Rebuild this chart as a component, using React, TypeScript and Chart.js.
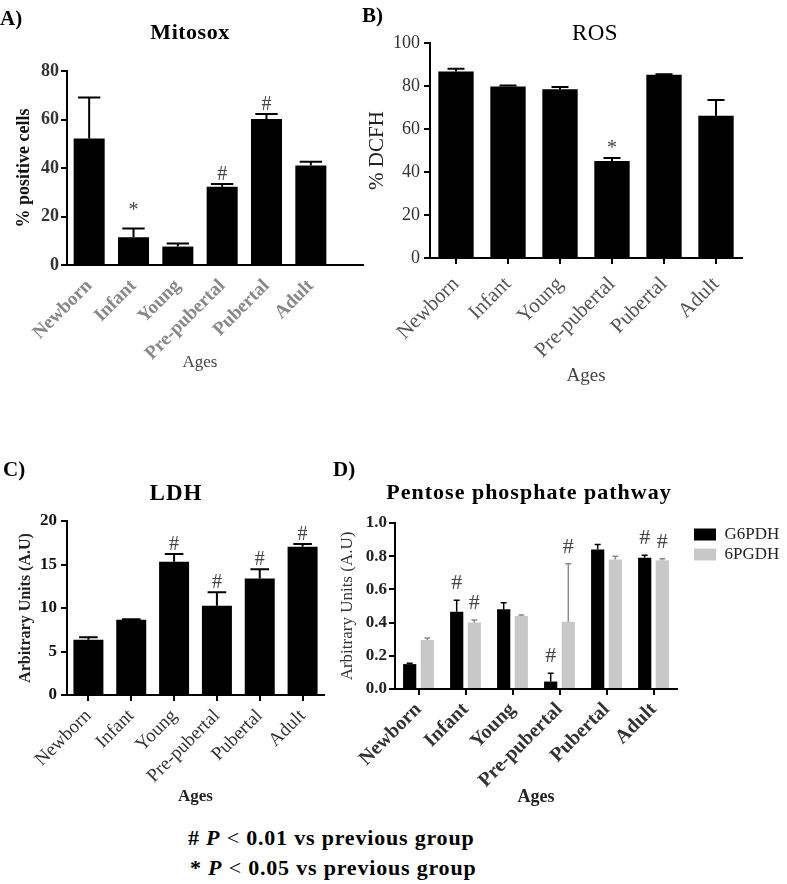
import React, { useEffect, useRef } from "react";
import { Chart, registerables } from "chart.js";

Chart.register(...registerables);

const SERIF = "'Liberation Serif', 'Times New Roman', Times, serif";
Chart.defaults.font.family = SERIF;

// ---------- data ----------
const AGES = ["Newborn", "Infant", "Young", "Pre-pubertal", "Pubertal", "Adult"];
const X_TITLE = "Ages";

// A) Mitosox
const MITOSOX_TICKS = [0, 20, 40, 60, 80];
const MITOSOX_MEAN = [52.2, 11.4, 7.6, 32.3, 60.2, 41.0];
const MITOSOX_SEM = [16.9, 3.7, 1.3, 1.1, 2.1, 1.6];
const MITOSOX_SIG = ["", "*", "", "#", "#", ""];

// B) ROS
const ROS_TICKS = [0, 20, 40, 60, 80, 100];
const ROS_MEAN = [86.8, 79.8, 78.5, 45.1, 85.2, 66.2];
const ROS_SEM = [1.2, 0.4, 1.0, 1.4, 0.3, 7.3];
const ROS_SIG = ["", "", "", "*", "", ""];

// C) LDH
const LDH_TICKS = [0, 5, 10, 15, 20];
const LDH_MEAN = [6.35, 8.64, 15.33, 10.25, 13.4, 17.05];
const LDH_SEM = [0.3, 0.06, 0.87, 1.55, 1.05, 0.3];
const LDH_SIG = ["", "", "#", "#", "#", "#"];

// D) Pentose phosphate pathway
const PPP_TICKS = [0, 0.2, 0.4, 0.6, 0.8, 1.0];
const G6PDH_MEAN = [0.15, 0.465, 0.48, 0.045, 0.84, 0.79];
const G6PDH_SEM = [0.005, 0.07, 0.04, 0.05, 0.03, 0.015];
const G6PDH_SIG = ["", "#", "", "#", "", "#"];
const PGDH_MEAN = [0.295, 0.4, 0.44, 0.405, 0.78, 0.775];
const PGDH_SEM = [0.012, 0.015, 0.006, 0.35, 0.02, 0.01];
const PGDH_SIG = ["", "#", "", "#", "", "#"];

// ---------- plugins ----------
const errorBarsPlugin = {
  id: "errorBars",
  afterDatasetsDraw(chart: any, _args: any, opts: any) {
    const ctx = chart.ctx;
    const y = chart.scales.y;
    chart.data.datasets.forEach((ds: any, i: number) => {
      const meta = chart.getDatasetMeta(i);
      meta.data.forEach((bar: any, j: number) => {
        const mean = ds.data[j];
        const top = y.getPixelForValue(mean + (ds.sem ? ds.sem[j] : 0));
        const half = (bar.width * opts.capRatio) / 2;
        ctx.save();
        ctx.strokeStyle = ds.errColor;
        ctx.lineWidth = opts.lineWidth;
        ctx.beginPath();
        ctx.moveTo(bar.x, bar.y);
        ctx.lineTo(bar.x, top);
        ctx.moveTo(bar.x - half, top);
        ctx.lineTo(bar.x + half, top);
        ctx.stroke();
        const s = ds.sig ? ds.sig[j] : "";
        if (s) {
          ctx.fillStyle = opts.sigColor;
          ctx.font = `${opts.sigSize}px ${SERIF}`;
          ctx.textAlign = "center";
          ctx.textBaseline = "alphabetic";
          ctx.fillText(s, bar.x, top - (s === "*" ? opts.starGap : opts.sigGap));
        }
        ctx.restore();
      });
    });
  },
};

const axisExtendPlugin = {
  id: "axisExtend",
  afterDraw(chart: any, _a: any, opts: any) {
    if (!opts || !opts.length) return;
    const { ctx, chartArea } = chart;
    const yPix = Math.round(chartArea.bottom);
    ctx.save();
    ctx.strokeStyle = "#000";
    ctx.lineWidth = 2;
    ctx.beginPath();
    ctx.moveTo(chartArea.right - 1, yPix);
    ctx.lineTo(chartArea.right + opts.length, yPix);
    ctx.stroke();
    ctx.restore();
  },
};

const legendShiftPlugin = {
  id: "legendShift",
  afterLayout(chart: any, _a: any, opts: any) {
    const lg = chart.legend;
    if (lg && opts && opts.dx) {
      lg.left += opts.dx;
      lg.right += opts.dx;
    }
  },
};

// ---------- panel specs ----------
type Series = { label: string; mean: number[]; sem: number[]; sig: string[]; color: string; errColor: string };

const f = (size: number, weight: string) => ({ family: SERIF, size, weight });

const PANEL_A = {
  box: { left: 0, top: 0, width: 390, height: 380 },
  pad: { top: 71, right: 57, bottom: 0, left: 0 },
  yWidth: 67, xHeight: 115,
  ticks: MITOSOX_TICKS, decimals: 0,
  yTitle: "% positive cells", yTitleFont: f(18, "bold"), yTitleColor: "#111", yTitlePad: 14,
  yTickFont: f(18, "bold"), yTickColor: "#333", yTickPad: 2,
  xTickFont: f(19, "bold"), xTickColor: "#888", xTickPad: 10, xTickMarks: false,
  xTitleFont: f(17, "normal"), xTitleColor: "#444", xTitlePad: 7,
  series: [{ label: "Mitosox", mean: MITOSOX_MEAN, sem: MITOSOX_SEM, sig: MITOSOX_SIG, color: "#000", errColor: "#000" }] as Series[],
  barPct: 0.7, catPct: 1,
  capRatio: 0.72, errWidth: 2, sigSize: 20, sigGap: 4, starGap: 12, sigColor: "#444",
  legend: false, axisExtend: 31, legendShift: 0,
};

const PANEL_B = {
  box: { left: 345, top: 0, width: 442, height: 395 },
  pad: { top: 43, right: 45, bottom: 0, left: 0 },
  yWidth: 85, xHeight: 137,
  ticks: ROS_TICKS, decimals: 0,
  yTitle: "% DCFH", yTitleFont: f(21, "normal"), yTitleColor: "#222", yTitlePad: 20,
  yTickFont: f(18, "normal"), yTickColor: "#333", yTickPad: 4,
  xTickFont: f(21, "normal"), xTickColor: "#555", xTickPad: 8, xTickMarks: true,
  xTitleFont: f(19, "normal"), xTitleColor: "#444", xTitlePad: 8,
  series: [{ label: "ROS", mean: ROS_MEAN, sem: ROS_SEM, sig: ROS_SIG, color: "#000", errColor: "#000" }] as Series[],
  barPct: 0.68, catPct: 1,
  capRatio: 0.48, errWidth: 2, sigSize: 20, sigGap: 4, starGap: 4, sigColor: "#444",
  legend: false, axisExtend: 0, legendShift: 0,
};

const PANEL_C = {
  box: { left: 0, top: 420, width: 335, height: 390 },
  pad: { top: 101, right: 11, bottom: 0, left: 0 },
  yWidth: 67, xHeight: 115,
  ticks: LDH_TICKS, decimals: 0,
  yTitle: "Arbitrary Units (A.U)", yTitleFont: f(16, "bold"), yTitleColor: "#222", yTitlePad: 16,
  yTickFont: f(17, "bold"), yTickColor: "#111", yTickPad: 4,
  xTickFont: f(19, "normal"), xTickColor: "#333", xTickPad: 4, xTickMarks: true,
  xTitleFont: f(17, "bold"), xTitleColor: "#222", xTitlePad: 3,
  series: [{ label: "LDH", mean: LDH_MEAN, sem: LDH_SEM, sig: LDH_SIG, color: "#000", errColor: "#000" }] as Series[],
  barPct: 0.7, catPct: 1,
  capRatio: 0.62, errWidth: 2, sigSize: 20, sigGap: 4, starGap: 4, sigColor: "#444",
  legend: false, axisExtend: 0, legendShift: 0,
};

const PANEL_D = {
  box: { left: 335, top: 420, width: 452, height: 390 },
  pad: { top: 103, right: 16, bottom: 0, left: 0 },
  yWidth: 60, xHeight: 121,
  ticks: PPP_TICKS, decimals: 1,
  yTitle: "Arbitrary Units (A.U)", yTitleFont: f(17, "normal"), yTitleColor: "#333", yTitlePad: 2,
  yTickFont: f(17, "bold"), yTickColor: "#222", yTickPad: 2,
  xTickFont: f(20, "bold"), xTickColor: "#333", xTickPad: 3, xTickMarks: true,
  xTitleFont: f(18, "bold"), xTitleColor: "#222", xTitlePad: 2,
  series: [
    { label: "G6PDH", mean: G6PDH_MEAN, sem: G6PDH_SEM, sig: G6PDH_SIG, color: "#000", errColor: "#000" },
    { label: "6PGDH", mean: PGDH_MEAN, sem: PGDH_SEM, sig: PGDH_SIG, color: "#c8c8c8", errColor: "#8c8c8c" },
  ] as Series[],
  barPct: 0.75, catPct: 0.75,
  capRatio: 0.45, errWidth: 1.5, sigSize: 22, sigGap: 11, starGap: 11, sigColor: "#444",
  legend: true, axisExtend: 0, legendShift: 14,
};

type Spec = typeof PANEL_A;

function buildConfig(p: Spec): any {
  const lo = p.ticks[0];
  const hi = p.ticks[p.ticks.length - 1];
  return {
    type: "bar",
    data: {
      labels: AGES,
      datasets: p.series.map((s) => ({
        label: s.label,
        data: s.mean,
        sem: s.sem,
        sig: s.sig,
        errColor: s.errColor,
        backgroundColor: s.color,
        borderWidth: 0,
        barPercentage: p.barPct,
        categoryPercentage: p.catPct,
      })),
    },
    options: {
      responsive: false,
      animation: false,
      devicePixelRatio: 1,
      layout: { padding: p.pad },
      plugins: {
        title: { display: false },
        tooltip: { enabled: false },
        legend: p.legend
          ? {
              display: true,
              position: "right",
              align: "start",
              fullSize: false,
              maxWidth: 94,
              labels: { boxWidth: 22, boxHeight: 12, padding: 3, color: "#222", font: f(17, "normal") },
            }
          : { display: false },
        errorBars: {
          capRatio: p.capRatio,
          lineWidth: p.errWidth,
          sigSize: p.sigSize,
          sigGap: p.sigGap,
          starGap: p.starGap,
          sigColor: p.sigColor,
        },
        axisExtend: { length: p.axisExtend },
        legendShift: { dx: p.legendShift },
      },
      scales: {
        x: {
          type: "category",
          offset: true,
          grid: {
            display: p.xTickMarks,
            offset: false,
            drawOnChartArea: false,
            drawTicks: p.xTickMarks,
            tickLength: 6,
            color: "#000",
            lineWidth: 2,
          },
          border: { display: true, color: "#000", width: 2 },
          ticks: {
            minRotation: 45,
            maxRotation: 45,
            autoSkip: false,
            padding: p.xTickPad,
            font: p.xTickFont,
            color: p.xTickColor,
          },
          title: {
            display: true,
            text: X_TITLE,
            font: p.xTitleFont,
            color: p.xTitleColor,
            padding: { top: 0, bottom: p.xTitlePad },
          },
          afterFit: (s: any) => {
            s.height = p.xHeight;
          },
        },
        y: {
          min: lo,
          max: hi,
          grid: {
            display: true,
            drawOnChartArea: false,
            drawTicks: true,
            tickLength: 6,
            color: "#000",
            lineWidth: 2,
          },
          border: { display: true, color: "#000", width: 2 },
          afterBuildTicks: (s: any) => {
            s.ticks = p.ticks.map((v) => ({ value: v }));
          },
          ticks: {
            padding: p.yTickPad,
            font: p.yTickFont,
            color: p.yTickColor,
            callback: (v: any) => Number(v).toFixed(p.decimals),
          },
          title: {
            display: true,
            text: p.yTitle,
            font: p.yTitleFont,
            color: p.yTitleColor,
            padding: { top: p.yTitlePad, bottom: 0 },
          },
          afterFit: (s: any) => {
            s.width = p.yWidth;
          },
        },
      },
    },
    plugins: [errorBarsPlugin, axisExtendPlugin, legendShiftPlugin],
  };
}

function BarPanel({ spec }: { spec: Spec }) {
  const ref = useRef<HTMLCanvasElement>(null);
  useEffect(() => {
    if (!ref.current) return;
    const chart = new Chart(ref.current, buildConfig(spec));
    return () => chart.destroy();
  }, [spec]);
  const b = spec.box;
  return (
    <canvas
      ref={ref}
      width={b.width}
      height={b.height}
      style={{ position: "absolute", left: b.left, top: b.top, width: b.width, height: b.height }}
    />
  );
}

function Label(props: { x: number; y: number; size: number; bold?: boolean; center?: boolean; spacing?: number; children: any }) {
  return (
    <div
      style={{
        position: "absolute",
        left: props.x,
        top: props.y,
        transform: props.center ? "translate(-50%, -50%)" : "translateY(-50%)",
        fontFamily: SERIF,
        fontSize: props.size,
        fontWeight: props.bold ? "bold" : "normal",
        letterSpacing: props.spacing ? `${props.spacing}px` : undefined,
        lineHeight: 1,
        whiteSpace: "nowrap",
        color: "#000",
      }}
    >
      {props.children}
    </div>
  );
}

export default function App() {
  return (
    <div style={{ position: "absolute", left: 0, top: 0, width: 787, height: 884, background: "#fff", overflow: "hidden" }}>
      <BarPanel spec={PANEL_A} />
      <BarPanel spec={PANEL_B} />
      <BarPanel spec={PANEL_C} />
      <BarPanel spec={PANEL_D} />

      <Label x={0} y={18} size={21} bold>A)</Label>
      <Label x={362} y={15} size={21} bold>B)</Label>
      <Label x={3} y={469} size={21} bold>C)</Label>
      <Label x={333} y={469} size={21} bold>D)</Label>

      <Label x={190} y={32} size={22} bold center spacing={0.5}>Mitosox</Label>
      <Label x={595} y={32} size={23} center spacing={0.5}>ROS</Label>
      <Label x={176} y={492} size={23} bold center spacing={1}>LDH</Label>
      <Label x={529} y={492} size={22} bold center spacing={1}>Pentose phosphate pathway</Label>

      <Label x={188} y={838} size={22} bold spacing={0.8}>
        # <i>P</i> <span style={{ fontWeight: "normal" }}>&lt;</span> 0.01 vs previous group
      </Label>
      <Label x={190} y={868} size={22} bold spacing={0.8}>
        * <i>P</i> <span style={{ fontWeight: "normal" }}>&lt;</span> 0.05 vs previous group
      </Label>
    </div>
  );
}
